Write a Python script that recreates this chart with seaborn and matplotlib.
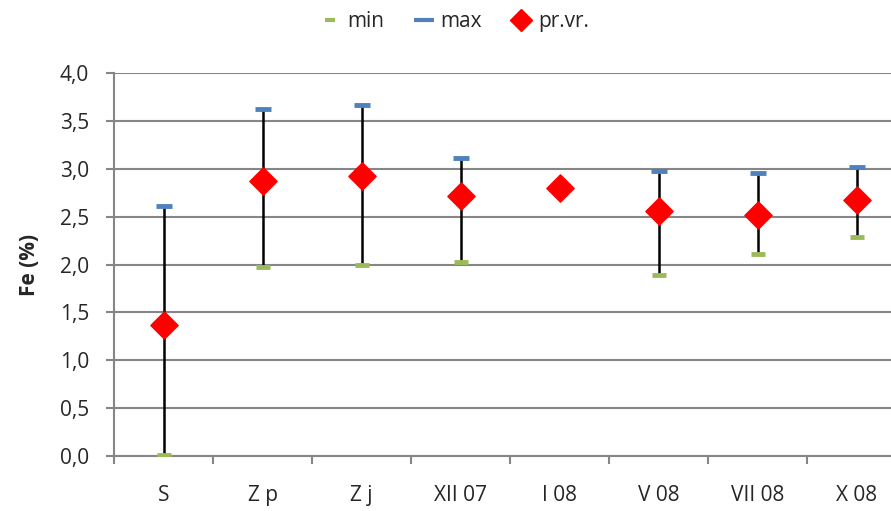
import numpy as np
import pandas as pd
import matplotlib
matplotlib.use('Agg')
import matplotlib.pyplot as plt
import seaborn as sns
from matplotlib.ticker import FixedLocator, FuncFormatter
from matplotlib.lines import Line2D

# Data
categories = ['S', 'Z p', 'Z j', 'XII 07', 'I 08', 'V 08', 'VII 08', 'X 08']
fe_min = [0.01, 1.97, 1.99, 2.03, 2.75, 1.89, 2.11, 2.29]
fe_max = [2.61, 3.62, 3.67, 3.11, 2.82, 2.98, 2.96, 3.02]
fe_mean = [1.37, 2.87, 2.92, 2.72, 2.80, 2.56, 2.52, 2.67]

df = pd.DataFrame({'cat': categories, 'min': fe_min, 'max': fe_max, 'mean': fe_mean})
df['x'] = np.arange(len(categories))

sns.set_style('white')
plt.rcParams['font.family'] = ['Open Sans', 'DejaVu Sans']

fig = plt.figure(figsize=(8.91, 5.11), dpi=100)
# plot area runs past the right edge of the image, as in the original
ax = fig.add_axes([114 / 891, 55 / 511, 792 / 891, 383 / 511])

# high-low lines
ax.vlines(df['x'], df['min'], df['max'], color='black', lw=1.8, zorder=2)

sns.scatterplot(data=df, x='x', y='min', marker='_', s=90, linewidth=3.5,
                color='#9BBB59', ax=ax, zorder=3, legend=False)
sns.scatterplot(data=df, x='x', y='max', marker='_', s=130, linewidth=3.5,
                color='#4F81BD', ax=ax, zorder=3, legend=False)
sns.scatterplot(data=df, x='x', y='mean', marker='D', s=190, color='#FF0000',
                edgecolor='#FF0000', ax=ax, zorder=4, legend=False)

ax.set_xlim(-0.5, len(categories) - 0.5)
ax.set_ylim(0, 4.0)
ax.set_yticks(np.arange(0, 4.01, 0.5))
ax.yaxis.set_major_formatter(FuncFormatter(lambda v, p: f'{v:.1f}'.replace('.', ',')))
ax.yaxis.grid(True, color='#868686', lw=1.5)
ax.set_axisbelow(True)

ax.set_xticks(df['x'])
ax.set_xticklabels(categories)
ax.xaxis.set_minor_locator(FixedLocator(np.arange(-0.5, len(categories), 1.0)))
ax.tick_params(axis='x', which='major', length=0, pad=21, labelsize=15)
ax.tick_params(axis='x', which='minor', length=6, color='#868686', width=1.5, direction='out')
ax.tick_params(axis='y', which='major', length=6, color='#868686', width=1.5,
               direction='out', labelsize=15, pad=12)
ax.xaxis.set_ticks_position('bottom')
ax.yaxis.set_ticks_position('left')

for side in ['top', 'right']:
    ax.spines[side].set_visible(False)
for side in ['left', 'bottom']:
    ax.spines[side].set_color('#868686')
    ax.spines[side].set_linewidth(1.5)

ax.set_xlabel('')
ax.set_ylabel('Fe (%)', fontsize=15, fontweight='bold', labelpad=14)

handles = [
    Line2D([], [], ls='none', marker='_', color='#9BBB59', markersize=7, markeredgewidth=3),
    Line2D([], [], ls='none', marker='_', color='#4F81BD', markersize=14, markeredgewidth=3),
    Line2D([], [], ls='none', marker='D', color='#FF0000', markersize=11),
]
fig.legend(handles, ['min', 'max', 'pr.vr.'], loc='upper center',
           bbox_to_anchor=(0.51, 1.015), ncol=3, frameon=False, fontsize=15,
           handlelength=1.0, handletextpad=0.3, columnspacing=1.4)

fig.savefig('out.png', dpi=100)
